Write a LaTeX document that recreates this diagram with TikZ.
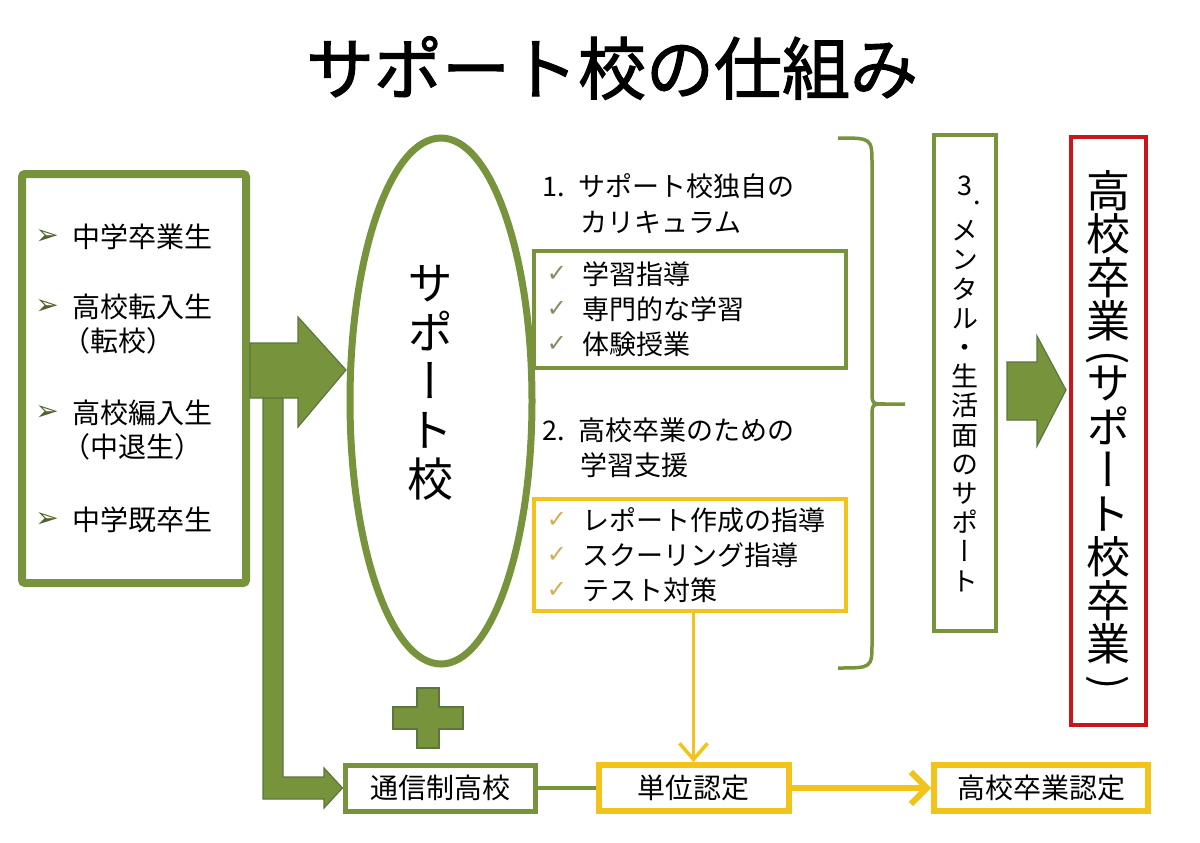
\documentclass[tikz,border=0pt]{standalone}
\usepackage{fontspec}
\setmainfont{Noto Sans CJK JP}
\newfontfamily\vjp[RawFeature=+vert]{Noto Sans CJK JP}
\newfontfamily\titlef[FakeBold=1.6]{Noto Sans CJK JP}
\newfontfamily\symf{DejaVu Sans}
\usetikzlibrary{shapes.geometric,arrows.meta,calc}
\definecolor{gr}{HTML}{77933C}
\definecolor{grdark}{HTML}{5C7640}
\definecolor{yl}{HTML}{F2C31A}
\definecolor{rd}{HTML}{C8161D}
\definecolor{chkg}{HTML}{7F8F62}
\definecolor{chky}{HTML}{D2AE50}
\definecolor{bul}{HTML}{4F6228}
\tikzset{
  x=1pt,y=-1pt,
  itemtxt/.style={anchor=west,inner sep=0pt,font=\fontsize{28}{30}\selectfont},
  rtxt/.style={anchor=west,inner sep=0pt,font=\fontsize{27}{29}\selectfont},
  bullet/.style={inner sep=0pt,text=bul,font=\symf\fontsize{28}{30}\selectfont},
  chkg/.style={inner sep=0pt,text=chkg,font=\symf\fontsize{24}{26}\selectfont},
  chky/.style={inner sep=0pt,text=chky,font=\symf\fontsize{24}{26}\selectfont},
  gbox/.style={draw=gr,inner sep=0pt},
  ybox/.style={draw=yl,inner sep=0pt},
  btxt/.style={font=\fontsize{28}{30}\selectfont},
  vred/.style={font=\vjp\fontsize{44}{43.5}\selectfont,align=center,inner sep=0pt},
  vparen/.style={rotate=-90,inner sep=0pt,font=\fontsize{42}{44}\selectfont},
  blockarrow/.style={fill=gr,draw=grdark,line width=1.2pt,line join=miter},
}
\begin{document}
\begin{tikzpicture}
\useasboundingbox[fill=white] (0,0) rectangle (1200,843);
% title
\node[font=\titlef\fontsize{68}{72}\selectfont,inner sep=0pt] (title) at (612,68) {サポート校の仕組み};

% left box
\node[gbox,line width=8pt,rounded corners=3pt,minimum width=224pt,minimum height=409pt] (src) at (134,378.5) {};
\node[bullet] (b1) at (47,237) {➢};
\node[itemtxt] (a1) at (72,237) {中学卒業生};
\node[bullet] (b2) at (47,307) {➢};
\node[itemtxt] (a2) at (72,307) {高校転入生};
\node[itemtxt] (a2b) at (62,341) {（転校）};
\node[bullet] (b3) at (47,413) {➢};
\node[itemtxt] (a3) at (72,413) {高校編入生};
\node[itemtxt] (a3b) at (62,447) {（中退生）};
\node[bullet] (b4) at (47,520) {➢};
\node[itemtxt] (a4) at (72,520) {中学既卒生};

% support school ellipse
\node[draw=gr,ellipse,line width=7pt,minimum width=182pt,minimum height=526pt,inner sep=0pt] (sup) at (441,401) {};
\node[font=\vjp\fontsize{46}{49}\selectfont,align=center,inner sep=0pt] (supt) at (430,383) {サ\\ポ\\ー\\ト\\校};

% vertical bar to correspondence school
\node[gbox,line width=5pt,minimum width=190pt,minimum height=46pt] (tsu) at (440,788) {};
\node[btxt,inner sep=0pt] (tsut) at (tsu) {通信制高校};
\fill[blockarrow] (263,395) -- (283,395) -- (283,777) -- (324,777) -- (324,768) -- (tsu.west) -- (324,808) -- (324,799) -- (263,799) -- cycle;
% block arrow 1
\fill[blockarrow] (250,343) -- (298,343) -- (298,317) -- (346,370) -- (298,427) -- (298,398) -- (250,398) -- cycle;

% plus
\fill[blockarrow] (417,688) -- (439,688) -- (439,707) -- (463,707) -- (463,729) -- (439,729) -- (439,748) -- (417,748) -- (417,729) -- (393,729) -- (393,707) -- (417,707) -- cycle;

% section 1
\node[rtxt] (h1) at (542,186) {1.\hspace{14pt}サポート校独自の};
\node[rtxt] (h1b) at (580,222) {カリキュラム};
\node[gbox,line width=4pt,minimum width=312pt,minimum height=117pt] (cur) at (690,309.5) {};
\node[chkg] (c1) at (557,274) {✓};
\node[rtxt] (t1) at (582,274) {学習指導};
\node[chkg] (c2) at (557,309) {✓};
\node[rtxt] (t2) at (582,309) {専門的な学習};
\node[chkg] (c3) at (557,344) {✓};
\node[rtxt] (t3) at (582,344) {体験授業};

% section 2
\node[rtxt] (h2) at (542,430) {2.\hspace{14pt}高校卒業のための};
\node[rtxt] (h2b) at (580,465) {学習支援};
\node[ybox,line width=4pt,minimum width=312pt,minimum height=112pt] (lrn) at (690,555) {};
\node[chky] (c4) at (557,520) {✓};
\node[rtxt] (t4) at (582,520) {レポート作成の指導};
\node[chky] (c5) at (557,555) {✓};
\node[rtxt] (t5) at (582,555) {スクーリング指導};
\node[chky] (c6) at (557,590) {✓};
\node[rtxt] (t6) at (582,590) {テスト対策};

% brace
\draw[gr,line width=3.5pt] (838,138) .. controls (872,138) .. (872,165) -- (872,390) .. controls (872,404) .. (885,404) -- (905,404);
\draw[gr,line width=3.5pt] (885,404) .. controls (872,404) .. (872,418) -- (872,642) .. controls (872,668) .. (838,668);

% box 3
\node[gbox,line width=4pt,minimum width=62pt,minimum height=496pt] (men) at (965,383) {};
\node[inner sep=0pt,font=\fontsize{27}{29}\selectfont] (men3) at (965,186) {3\rlap{\hspace{1pt}\raisebox{-9pt}[0pt][0pt]{.}}};
\node[font=\vjp\fontsize{27}{29.2}\selectfont,align=center,inner sep=0pt] (ment) at (965,406) {メ\\ン\\タ\\ル\\・\\生\\活\\面\\の\\サ\\ポ\\ー\\ト};

% block arrow 2
\fill[blockarrow] (1007,362) -- (1037,362) -- (1037,336) -- (1066,390) -- (1037,446) -- (1037,420) -- (1007,420) -- cycle;

% red box
\node[draw=rd,line width=4pt,minimum width=75pt,minimum height=588pt,inner sep=0pt] (grad) at (1108.5,431) {};
\node[vred] (gradA) at (1108,256) {高\\校\\卒\\業};
\node[vparen] (lp) at (1108,358) {(};
\node[vred] (gradB) at (1108,515) {サ\\ポ\\ー\\ト\\校\\卒\\業};
\node[vparen] (rp) at (1108,683) {)};

% bottom row
\node[ybox,line width=6pt,minimum width=190pt,minimum height=46pt] (tan) at (693.5,788) {};
\node[btxt,inner sep=0pt] (tant) at (tan) {単位認定};
\node[ybox,line width=6pt,minimum width=214pt,minimum height=46pt] (sot) at (1041,788) {};
\node[btxt,inner sep=0pt] (sott) at (sot) {高校卒業認定};

\draw[gr,line width=4pt] (tsu.east) -- (tan.west);
\draw[yl,line width=3.5pt,-{Straight Barb[length=16pt,width=28pt]}] (tan.north |- lrn.south) -- (tan.north);
\draw[yl,line width=6pt,-{Straight Barb[length=16pt,width=32pt]}] (tan.east) -- (sot.west);
\end{tikzpicture}
\end{document}
